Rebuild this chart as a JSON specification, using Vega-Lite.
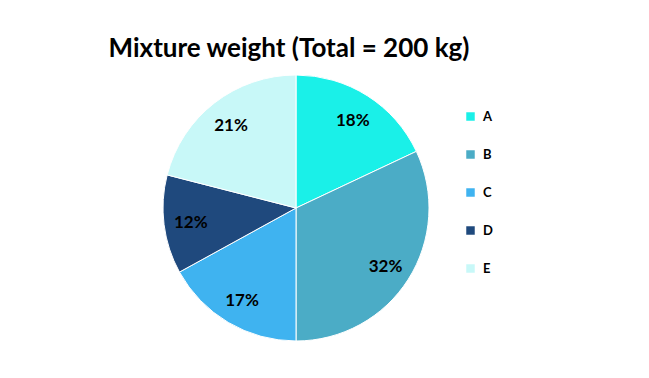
{
  "$schema": "https://vega.github.io/schema/vega-lite/v6.json",
  "autosize": "none",
  "padding": 0,
  "width": 592,
  "height": 416,
  "background": "white",
  "title": {
    "text": "Mixture weight (Total = 200 kg)",
    "anchor": "middle",
    "orient": "top",
    "offset": -62,
    "dx": -7,
    "font": "Lato",
    "fontSize": 26,
    "fontWeight": "bold",
    "color": "#000000"
  },
  "data": {
    "values": [
      {"ingredient": "A", "pct": 18, "label": "18%"},
      {"ingredient": "B", "pct": 32, "label": "32%"},
      {"ingredient": "C", "pct": 17, "label": "17%"},
      {"ingredient": "D", "pct": 12, "label": "12%"},
      {"ingredient": "E", "pct": 21, "label": "21%"}
    ]
  },
  "encoding": {
    "theta": {"field": "pct", "type": "quantitative", "stack": true},
    "order": {"field": "ingredient", "type": "nominal"},
    "color": {
      "field": "ingredient",
      "type": "nominal",
      "scale": {
        "domain": ["A", "B", "C", "D", "E"],
        "range": ["#1AF0E8", "#4BACC6", "#3FB3F0", "#1F497D", "#C8F8F8"]
      },
      "legend": {
        "title": null,
        "orient": "none",
        "legendX": 464,
        "legendY": 110,
        "symbolType": "square",
        "symbolSize": 72,
        "symbolStrokeWidth": 0,
        "labelFont": "Lato",
        "labelFontSize": 13,
        "labelFontWeight": "bold",
        "labelColor": "#000000",
        "rowPadding": 24,
        "labelOffset": 6
      }
    }
  },
  "layer": [
    {
      "mark": {"type": "arc", "outerRadius": 133, "stroke": "#ffffff", "strokeWidth": 1}
    },
    {
      "mark": {"type": "text", "radius": 106, "dy": 2, "font": "Lato", "fontSize": 17, "fontWeight": "bold", "color": "#000000"},
      "encoding": {
        "text": {"field": "label", "type": "nominal"},
        "color": {"value": "#000000"}
      }
    }
  ]
}
